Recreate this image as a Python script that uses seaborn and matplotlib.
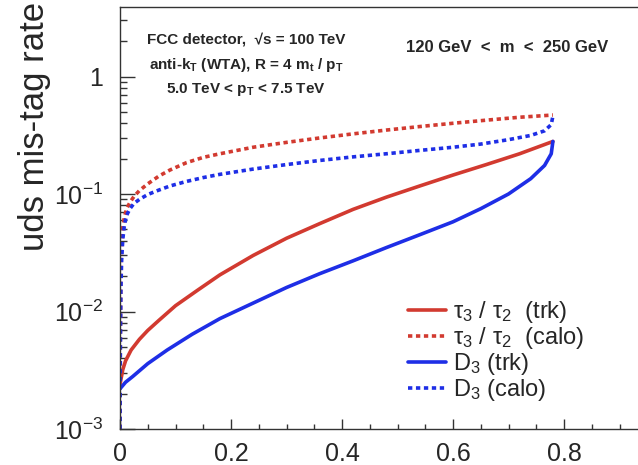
import numpy as np
import pandas as pd
import matplotlib
matplotlib.use('Agg')
import matplotlib.pyplot as plt
import matplotlib.ticker as mticker
import seaborn as sns

# signal efficiency (x) vs uds mis-tag rate (y)
eff_tau_trk = [0.0, 0.005, 0.01, 0.02, 0.035, 0.05, 0.07, 0.1, 0.14, 0.18, 0.24, 0.3, 0.36, 0.42,
               0.48, 0.54, 0.6, 0.66, 0.72, 0.78]
rate_tau_trk = [0.0024, 0.0032, 0.0038, 0.0047, 0.0058, 0.0069, 0.0084, 0.0112, 0.0152, 0.0205, 0.030,
                0.042, 0.056, 0.074, 0.094, 0.117, 0.145, 0.178, 0.22, 0.28]

eff_tau_calo = [0.0, 0.0005, 0.0015, 0.003, 0.005, 0.008, 0.012, 0.018, 0.025, 0.035, 0.05, 0.07, 0.09,
                0.12, 0.15, 0.18, 0.24, 0.3, 0.36, 0.42, 0.48, 0.54, 0.6, 0.66, 0.72, 0.78]
rate_tau_calo = [0.001, 0.005, 0.02, 0.038, 0.052, 0.064, 0.075, 0.085, 0.095, 0.107, 0.122, 0.142, 0.16,
                 0.185, 0.205, 0.22, 0.25, 0.275, 0.30, 0.325, 0.35, 0.375, 0.40, 0.425, 0.45, 0.47]

eff_d3_trk = [0.0, 0.01, 0.023, 0.05, 0.085, 0.13, 0.18, 0.24, 0.3, 0.36, 0.42, 0.48, 0.54, 0.6, 0.65,
              0.7, 0.74, 0.765, 0.777, 0.78]
rate_d3_trk = [0.0022, 0.0025, 0.0028, 0.0036, 0.0047, 0.0064, 0.0087, 0.0118, 0.016, 0.021, 0.027,
               0.035, 0.045, 0.058, 0.075, 0.10, 0.135, 0.175, 0.22, 0.28]

eff_d3_calo = [0.0, 0.0005, 0.0015, 0.003, 0.005, 0.008, 0.012, 0.018, 0.025, 0.035, 0.05, 0.07, 0.09,
               0.12, 0.15, 0.18, 0.24, 0.3, 0.36, 0.42, 0.48, 0.54, 0.6, 0.65, 0.7, 0.74, 0.765, 0.777, 0.78]
rate_d3_calo = [0.001, 0.004, 0.015, 0.028, 0.041, 0.055, 0.066, 0.075, 0.083, 0.09, 0.099, 0.108, 0.117,
                0.128, 0.138, 0.147, 0.163, 0.178, 0.193, 0.207, 0.22, 0.235, 0.25, 0.266, 0.29, 0.315,
                0.345, 0.39, 0.46]

labels = [r'$\tau_3$ / $\tau_2$  (trk)', r'$\tau_3$ / $\tau_2$  (calo)', r'D$_3$ (trk)', r'D$_3$ (calo)']
xtick_vals = [0, 0.2, 0.4, 0.6, 0.8]
xtick_labels = ['0', '0.2', '0.4', '0.6', '0.8']
ytick_vals = [1e-3, 1e-2, 1e-1, 1]
ytick_labels = [r'$10^{-3}$', r'$10^{-2}$', r'$10^{-1}$', '1']

sns.set_style('ticks')
plt.rcParams['font.family'] = ['Liberation Sans', 'DejaVu Sans']
plt.rcParams['mathtext.default'] = 'regular'

red = '#d23a30'
blue = '#1e2ee6'

fig = plt.figure(figsize=(6.38, 4.65), dpi=100)
ax = fig.add_axes([120/638, 36/465, 555/638, 422/465])

series = [(eff_tau_trk, rate_tau_trk, red, '-'),
          (eff_tau_calo, rate_tau_calo, red, ':'),
          (eff_d3_trk, rate_d3_trk, blue, '-'),
          (eff_d3_calo, rate_d3_calo, blue, ':')]
for (x, y, c, ls), lab in zip(series, labels):
    df = pd.DataFrame({'eff': x, 'rate': y})
    sns.lineplot(data=df, x='eff', y='rate', ax=ax, color=c, sort=False,
                 estimator=None, label=lab, linewidth=2.6)
    line = ax.get_lines()[-1]
    if ls == ':':
        line.set_dashes((1.2, 1.0))

ax.set_yscale('log')
ax.set_xlim(0, 1)
ax.set_ylim(1e-3, 10 ** (-3 + 422/117.5))
ax.set_xticks(xtick_vals)
ax.set_xticklabels(xtick_labels)
ax.xaxis.set_minor_locator(mticker.MultipleLocator(0.05))
ax.set_yticks(ytick_vals)
ax.set_yticklabels(ytick_labels)
ax.yaxis.set_minor_locator(mticker.LogLocator(base=10, subs=np.arange(2, 10)))
ax.yaxis.set_minor_formatter(mticker.NullFormatter())

ax.tick_params(axis='both', which='both', direction='in', labelsize=18, width=1, color='#333333')
ax.tick_params(axis='y', which='major', length=11, pad=12)
ax.tick_params(axis='y', which='minor', length=5)
ax.tick_params(axis='x', which='major', length=7.5, pad=9)
ax.tick_params(axis='x', which='minor', length=3.5)
for s in ax.spines.values():
    s.set_color('#333333')
    s.set_linewidth(1)

ax.set_xlabel('')
ax.set_ylabel('uds mis-tag rate', fontsize=25, loc='top')
ax.yaxis.set_label_coords(-0.125, 1.013)

fig.text(246/638, 1 - 40/465, 'FCC detector,  \u221as = 100 TeV', fontsize=11, weight='bold', ha='center', va='center')
fig.text(246/638, 1 - 65/465, r'anti-k$_T$ (WTA), R = 4 m$_t$ / p$_T$', fontsize=11, weight='bold', ha='center', va='center')
fig.text(246/638, 1 - 89/465, r'5.0 TeV < p$_T$ < 7.5 TeV', fontsize=11, weight='bold', ha='center', va='center')
fig.text(507/638, 1 - 47/465, '120 GeV  <  m  <  250 GeV', fontsize=12, weight='bold', ha='center', va='center')

leg = ax.legend(loc='upper left', bbox_to_anchor=(408/638, 1 - 299/465), bbox_transform=fig.transFigure,
                frameon=False, fontsize=17, handlelength=1.6, handletextpad=0.3, labelspacing=0.0,
                borderpad=0.0, borderaxespad=0.0)
for h in leg.get_lines():
    h.set_linewidth(2.6)

fig.savefig('out.png', dpi=100)
